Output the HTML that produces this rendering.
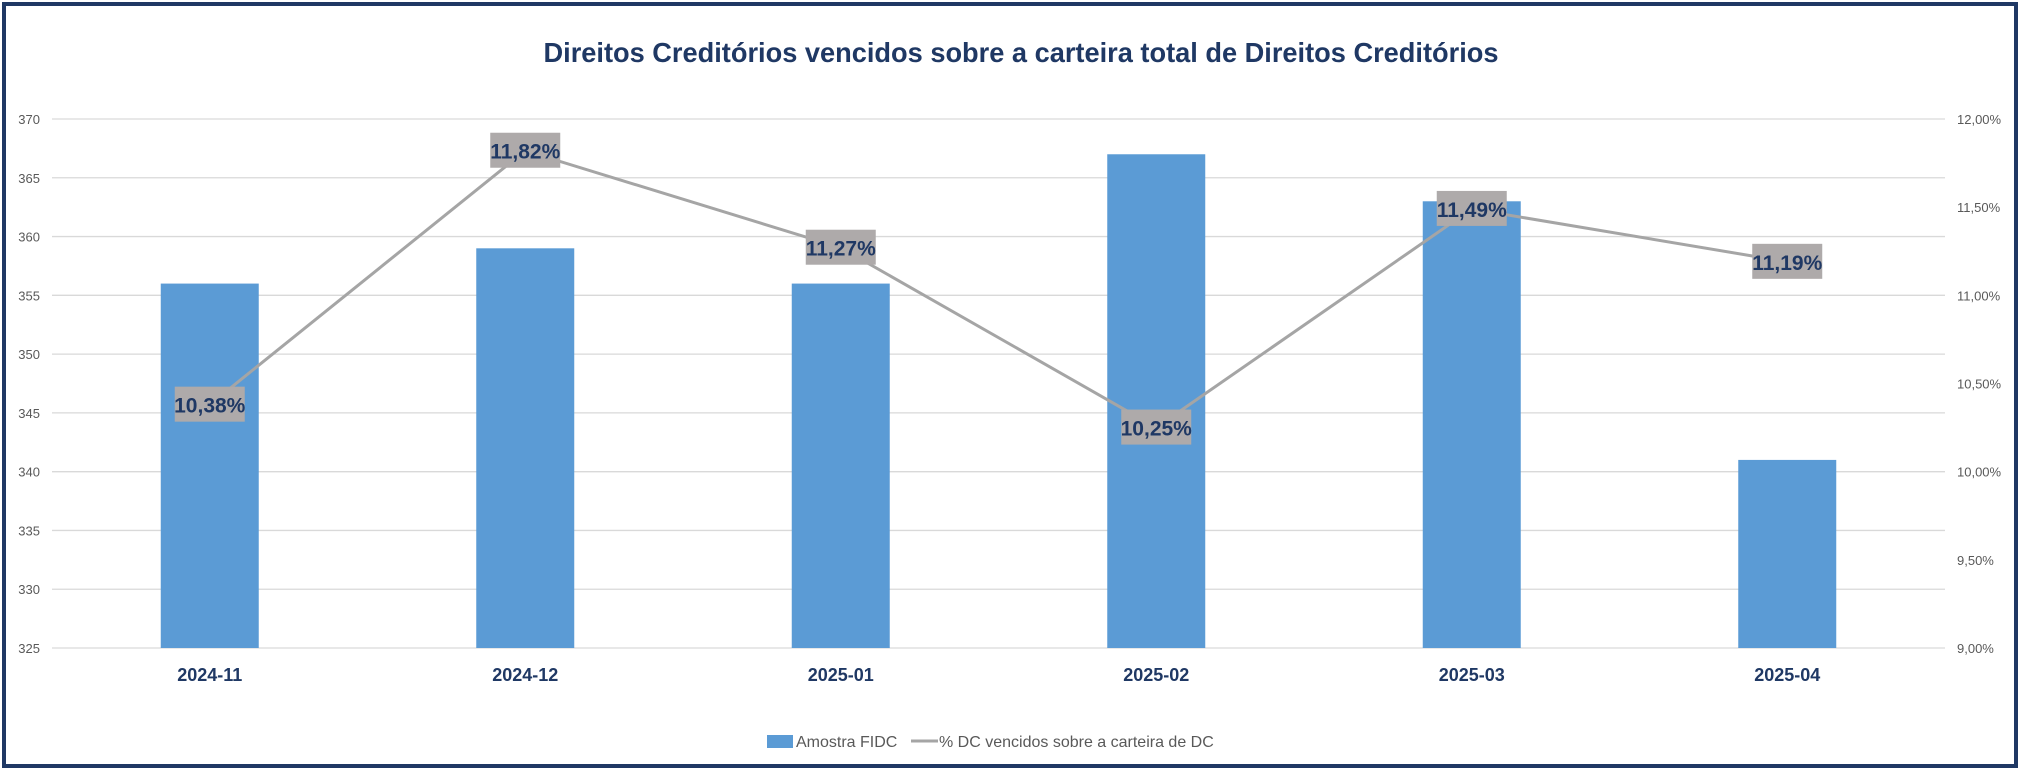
<!DOCTYPE html>
<html><head><meta charset="utf-8"><style>
html,body{margin:0;padding:0;background:#fff;}
svg{display:block;font-family:"Liberation Sans",sans-serif;}
</style></head><body>
<svg id="chart" width="2020" height="770" xmlns="http://www.w3.org/2000/svg">
<rect x="4" y="4" width="2012" height="762" fill="#fff" stroke="#1f3864" stroke-width="4"/>
<text x="1021" y="62" text-anchor="middle" font-size="28" font-weight="bold" fill="#1f3864" textLength="955" lengthAdjust="spacingAndGlyphs">Direitos Creditórios vencidos sobre a carteira total de Direitos Creditórios</text>
<g id="grid"></g><g id="bars"></g><g id="line"></g><g id="labels"></g>
<g>
<rect x="767" y="735" width="26" height="13" fill="#5b9bd5"/>
<text x="796" y="747" font-size="16" fill="#595959">Amostra FIDC</text>
<line x1="911" y1="741" x2="938" y2="741" stroke="#a5a5a5" stroke-width="3"/>
<text x="939" y="747" font-size="16" fill="#595959">% DC vencidos sobre a carteira de DC</text>
</g>
</svg>
<script>
const categories = ["2024-11","2024-12","2025-01","2025-02","2025-03","2025-04"];
const barValues = [356,359,356,367,363,341];
const pctValues = [10.38,11.82,11.27,10.25,11.49,11.19];
const leftTicks = [325,330,335,340,345,350,355,360,365,370];
const rightTicks = [9,9.5,10,10.5,11,11.5,12];

const NS="http://www.w3.org/2000/svg";
const X0=52,X1=1945,Y0=648,Y1=119;
const yL=v=>Y0-(v-325)/(370-325)*(Y0-Y1);
const yR=v=>Y0-(v-9)/(12-9)*(Y0-Y1);
const band=(X1-X0)/categories.length;
const xC=i=>X0+band*(i+0.5);
const fmt=v=>v.toFixed(2).replace('.',',')+'%';
function mk(tag,attrs,parent,txt){const e=document.createElementNS(NS,tag);for(const k in attrs)e.setAttribute(k,attrs[k]);if(txt!==undefined)e.textContent=txt;parent.appendChild(e);return e;}
const grid=document.getElementById('grid'),bars=document.getElementById('bars'),line=document.getElementById('line'),labels=document.getElementById('labels');
leftTicks.forEach(t=>{
  const l=mk('line',{x1:X0,x2:X1,y1:yL(t),y2:yL(t),stroke:'#d9d9d9','stroke-width':1.3},grid);
  
  
  const tx=mk('text',{x:40,y:yL(t)+5,'text-anchor':'end','font-size':13,fill:'#595959'},grid,String(t));
  
  
});
rightTicks.forEach(t=>{
  const tx=mk('text',{x:1957,y:yR(t)+5,'font-size':13,fill:'#595959'},grid,t.toFixed(2).replace('.',',')+'%');
  
  
});
categories.forEach((c,i)=>{
  const b=mk('rect',{x:xC(i)-49,y:yL(barValues[i]),width:98,height:Y0-yL(barValues[i]),fill:'#5b9bd5'},bars);
  
  
  const tx=mk('text',{x:xC(i),y:681,'text-anchor':'middle','font-size':18,'font-weight':'bold',fill:'#1f3864'},grid,c);
  
  
});
const pts=pctValues.map((v,i)=>xC(i)+','+yR(v)).join(' ');
const pl=mk('polyline',{points:pts,fill:'none',stroke:'#a5a5a5','stroke-width':3},line);


pctValues.forEach((v,i)=>{
  const g=mk('g',{},labels);
  
  
  const y=yR(v);
  mk('rect',{x:xC(i)-35,y:y-18,width:70,height:35,fill:'#aeaaaa'},g);
  mk('text',{x:xC(i),y:y+8,'text-anchor':'middle','font-size':21,'font-weight':'bold',fill:'#1f3864'},g,fmt(v));
});
</script>
</body></html>
